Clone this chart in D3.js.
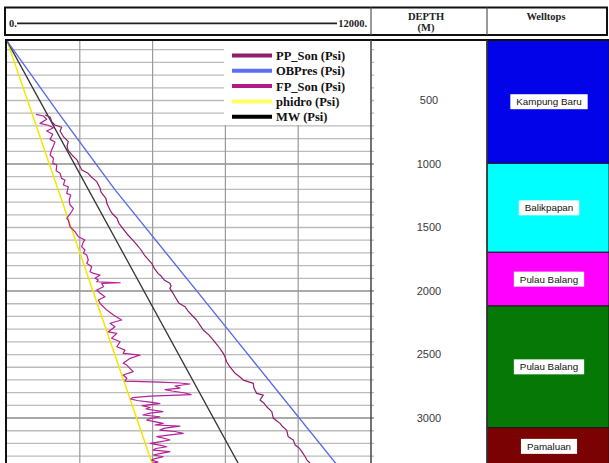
<!DOCTYPE html>
<html>
<head>
<meta charset="utf-8">
<script src="https://cdn.jsdelivr.net/npm/d3@7"></script>
<style>
  body { margin: 0; background: #fff; }
  svg { display: block; }
  .hdr { font-family: "Liberation Serif", "Times New Roman", serif; font-weight: bold; font-size: 10.5px; fill: #222; }
  .leg { font-family: "Liberation Serif", "Times New Roman", serif; font-weight: bold; font-size: 12.5px; fill: #111; }
  .dlab { font-family: "Liberation Sans", Arial, sans-serif; font-size: 11px; fill: #3a3a3a; }
  .wlab { font-family: "Liberation Sans", Arial, sans-serif; font-size: 9.8px; fill: #111; }
</style>
</head>
<body>
<div id="chart"></div>
<script>
// data
var depthTicks = [500, 1000, 1500, 2000, 2500, 3000];
var pressureTicks = [2400, 4800, 7200, 9600];

var welltopNames = ["Kampung Baru", "Balikpapan", "Pulau Balang", "Pulau Balang", "Pamaluan"];
var welltopTop = [24, 995, 1695, 2118, 3076];
var welltopBase = [995, 1695, 2118, 3076, 3370];

var hydroDepth = [30, 3360];
var hydroPsi = [0, 4790];

var mwDepth = [30, 3360];
var mwPsi = [0, 7630];

var obDepth = [30, 600, 1200, 2290, 3360];
var obPsi = [0, 1700, 3550, 7240, 10850];

// left curve (near hydrostatic)
var fpDepth = [609,622,648,680,695,714,740,766,806,827,858,890,929,955,995,1008,1053,1073,1113,1126,
  1165,1179,1231,1244,1284,1323,1349,1376,1402,1428,1441,1494,1520,1533,1572,1585,1598,1612,1651,1677,
  1703,1717,1756,1782,1809,1848,1861,1874,1900,1913,1927,1935,1939,1966,1992,2018,2045,2071,2097,2110,
  2150,2189,2228,2254,2281,2321,2333,2372,2399,2439,2465,2491,2504,2530,2569,2583,2635,2661,2687,2709,
  2717,2724,2732,2748,2764,2776,2787,2803,2815,2827,2839,2850,2862,2874,2886,2902,2917,2929,2949,2961,
  2976,2990,3004,3016,3042,3055,3063,3079,3095,3106,3121,3134,3147,3161,3173,3189,3199,3213,3226,3240,
  3252,3265,3280,3291,3305,3319,3331,3347,3354];
var fpPsi = [960,1200,1310,1090,1360,1530,1310,1510,1420,1580,1530,1470,1420,1530,1510,1640,1620,1750,1800,1910,
  1860,2020,1970,2100,2050,2080,2190,2130,2050,1970,2020,2080,2190,2240,2350,2460,2570,2520,2460,2570,
  2520,2630,2680,2630,2790,2740,2850,3070,2900,3010,2960,3730,3120,3180,2960,3070,3230,3010,3070,3120,
  3290,3510,3780,3400,3560,3340,3620,3450,3730,3620,3890,3830,4390,4060,3830,3950,4160,3830,3950,3890,
  5040,5700,6030,5540,5700,5210,5440,5870,6070,4720,4150,4080,4290,4720,5040,4450,4720,4580,5140,4720,
  4480,5040,4720,4610,5150,4880,5700,5210,5040,5540,5810,5310,4940,5210,5370,4980,4720,5040,5270,4910,
  4820,5370,5040,4820,5150,4880,4770,4980,4810];

// right curve (between MW and overburden)
var ppDepth = [614,630,669,693,711,740,785,824,858,890,929,969,1021,1047,1073,1100,1139,1191,1221,1270,
  1315,1362,1388,1425,1467,1520,1559,1598,1638,1677,1724,1782,1819,1861,1882,1913,1939,1961,1979,2016,
  2045,2097,2124,2158,2189,2228,2268,2307,2347,2386,2433,2491,2520,2557,2598,2648,2677,2701,2727,2764,
  2806,2819,2858,2882,2911,2950,3002,3024,3042,3071,3095,3147,3173,3213,3236,3265,3305,3331,3354];
var ppPsi = [1250,1420,1480,1580,1800,1750,1860,2020,1980,2010,2140,2310,2410,2470,2670,2770,2960,3070,3100,3260,
  3300,3400,3460,3620,3690,3860,3990,4140,4290,4420,4550,4770,4850,4980,5080,5180,5370,5410,5370,5470,
  5540,5670,5870,5970,6090,6250,6360,6470,6660,6800,6960,7130,7190,7240,7350,7520,7680,7790,8120,8140,
  8230,8450,8340,8470,8560,8730,8780,8900,9000,9100,9220,9270,9440,9500,9630,9720,9830,9890,9990];

var legendNames = ["PP_Son (Psi)", "OBPres (Psi)", "FP_Son (Psi)", "phidro (Psi)", "MW (Psi)"];

// styles
var colors = {
  pp: "#8e1d6c", ob: "#5b6de8", fp: "#b51f98", hydro: "#f4e600", mw: "#333333"
};
var legendColors = ["#8e1d6c", "#5b6ef0", "#b21a85", "#ffff66", "#000000"];
var welltopColors = ["#0303ea", "#00ffff", "#ff00ff", "#067806", "#7a0202"];

// dimensions
var width = 609, height = 463;
var plotLeft = 7, plotRight = 371, plotTop = 40;
var depthCol = 371, wellCol = 487, rightEdge = 607;

var x = d3.scaleLinear().domain([0, 12000]).range([plotLeft, plotRight]);
var y = d3.scaleLinear().domain([0, 3354]).range([37, 463]);

var svg = d3.select("#chart").append("svg")
  .attr("width", width)
  .attr("height", height);

svg.append("defs").append("clipPath").attr("id", "plotclip")
  .append("rect")
  .attr("x", plotLeft).attr("y", plotTop)
  .attr("width", plotRight - plotLeft).attr("height", height - plotTop);

// header
svg.append("rect")
  .attr("x", 5).attr("y", 7.5)
  .attr("width", rightEdge - 5).attr("height", 27.5)
  .attr("fill", "#fff").attr("stroke", "#111").attr("stroke-width", 2);
[depthCol, wellCol].forEach(function(cx) {
  svg.append("line")
    .attr("x1", cx).attr("x2", cx).attr("y1", 7.5).attr("y2", 35)
    .attr("stroke", "#555").attr("stroke-width", 1.2);
});
svg.append("text").attr("class", "hdr").attr("x", 9).attr("y", 26.5).text(x.domain()[0] + ".");
svg.append("text").attr("class", "hdr").attr("x", 367).attr("y", 26.5)
  .attr("text-anchor", "end").text(x.domain()[1] + ".");
svg.append("line")
  .attr("x1", 17).attr("x2", 337).attr("y1", 23.3).attr("y2", 23.3)
  .attr("stroke", "#222").attr("stroke-width", 1.8);
svg.append("text").attr("class", "hdr").attr("x", 426).attr("y", 19.5)
  .attr("text-anchor", "middle").text("DEPTH");
svg.append("text").attr("class", "hdr").attr("x", 426).attr("y", 30.5)
  .attr("text-anchor", "middle").text("(M)");
svg.append("text").attr("class", "hdr").attr("x", 546).attr("y", 19.5)
  .attr("text-anchor", "middle").text("Welltops");

// grid
var gridDepths = d3.range(100, 3400, 100);
svg.append("g").selectAll("line")
  .data(gridDepths)
  .enter()
  .append("line")
  .attr("x1", plotLeft).attr("x2", depthCol + 3)
  .attr("y1", function(d) { return y(d); })
  .attr("y2", function(d) { return y(d); })
  .attr("stroke", function(d) { return d % 1000 === 0 ? "#8c8c8c" : "#bbbbbb"; })
  .attr("stroke-width", function(d) { return d % 1000 === 0 ? 1.6 : 1.3; });

svg.append("g").selectAll("line")
  .data(pressureTicks)
  .enter()
  .append("line")
  .attr("x1", function(d) { return x(d); })
  .attr("x2", function(d) { return x(d); })
  .attr("y1", plotTop).attr("y2", height)
  .attr("stroke", "#9a9a9a").attr("stroke-width", 1.2);

// legend box (covers grid)
svg.append("rect")
  .attr("x", 224).attr("y", plotTop)
  .attr("width", plotRight - 224).attr("height", 85)
  .attr("fill", "#fff");

// curves
var line = d3.line()
  .x(function(d) { return x(d[1]); })
  .y(function(d) { return y(d[0]); });

function pairs(depths, vals) {
  return depths.map(function(d, i) { return [d, vals[i]]; });
}

var curves = svg.append("g").attr("clip-path", "url(#plotclip)");
var series = [
  { data: pairs(hydroDepth, hydroPsi), color: colors.hydro, w: 1.5 },
  { data: pairs(mwDepth, mwPsi), color: colors.mw, w: 1.3 },
  { data: pairs(obDepth, obPsi), color: colors.ob, w: 1.4 },
  { data: pairs(ppDepth, ppPsi), color: colors.pp, w: 1.2 },
  { data: pairs(fpDepth, fpPsi), color: colors.fp, w: 1.2 }
];
series.forEach(function(s) {
  curves.append("path")
    .datum(s.data)
    .attr("d", line)
    .attr("fill", "none")
    .attr("stroke", s.color)
    .attr("stroke-width", s.w)
    .attr("stroke-linejoin", "round");
});

// legend
var leg = svg.append("g");
legendNames.forEach(function(name, i) {
  var ly = 55.5 + i * 15.3;
  leg.append("line")
    .attr("x1", 232).attr("x2", 272).attr("y1", ly).attr("y2", ly)
    .attr("stroke", legendColors[i]).attr("stroke-width", 4);
  leg.append("text").attr("class", "leg")
    .attr("x", 276).attr("y", ly + 4.5).text(name);
});

// depth column
svg.append("g").selectAll("text")
  .data(depthTicks)
  .enter()
  .append("text")
  .attr("class", "dlab")
  .attr("x", 429)
  .attr("y", function(d) { return y(d); })
  .attr("dy", "0.35em")
  .attr("text-anchor", "middle")
  .text(function(d) { return d; });

// welltops
var tops = svg.append("g");
welltopNames.forEach(function(name, i) {
  var y0 = Math.max(plotTop, y(welltopTop[i]));
  var y1 = y(welltopBase[i]);
  tops.append("rect")
    .attr("x", wellCol).attr("y", y0)
    .attr("width", width - wellCol).attr("height", y1 - y0)
    .attr("fill", welltopColors[i])
    .attr("stroke", "#1a1a1a").attr("stroke-width", 1);
  var cy = (y0 + y1) / 2;
  var t = tops.append("text").attr("class", "wlab")
    .attr("x", 549).attr("y", cy).attr("dy", "0.35em")
    .attr("text-anchor", "middle").text(name);
  var bb = t.node().getBBox();
  tops.insert("rect", function() { return t.node(); })
    .attr("x", bb.x - 6).attr("y", cy - 7.5)
    .attr("width", bb.width + 12).attr("height", 15)
    .attr("fill", "#fff");
});

// frame lines
svg.append("line").attr("x1", 5).attr("x2", width).attr("y1", plotTop).attr("y2", plotTop)
  .attr("stroke", "#111").attr("stroke-width", 2);
svg.append("line").attr("x1", 6).attr("x2", 6).attr("y1", plotTop).attr("y2", height)
  .attr("stroke", "#111").attr("stroke-width", 2);
svg.append("line").attr("x1", depthCol).attr("x2", depthCol).attr("y1", plotTop).attr("y2", height)
  .attr("stroke", "#444").attr("stroke-width", 1.5);
svg.append("line").attr("x1", wellCol).attr("x2", wellCol).attr("y1", plotTop).attr("y2", height)
  .attr("stroke", "#333").attr("stroke-width", 1.5);
</script>
</body>
</html>
